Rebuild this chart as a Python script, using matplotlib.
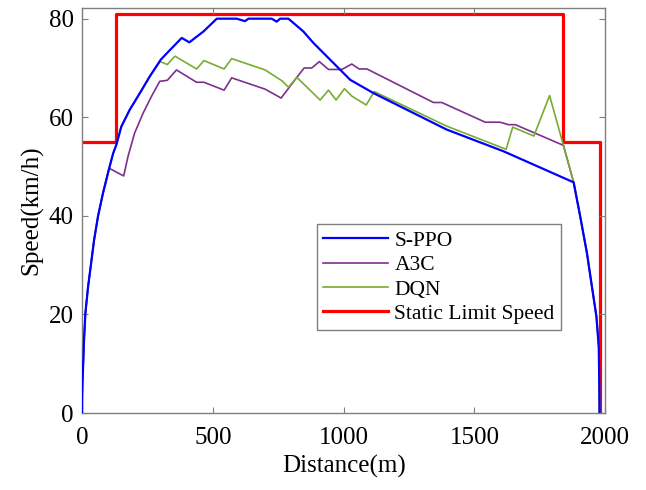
import matplotlib
matplotlib.use('Agg')
import matplotlib.pyplot as plt

# distance (m) / speed (km/h)
# shared braking/traction curves at both ends
acc_x = [0, 0.5, 1.5, 3, 7.6, 12.7, 23, 33, 46, 61, 80, 102]
acc_v = [0, 3.5, 6, 8, 14.8, 20.2, 25.6, 29.7, 35.1, 39.9, 44.6, 49.3]
brk_x = [1879, 1904, 1930, 1949, 1966, 1975, 1977, 1978]
brk_v = [46.8, 39.9, 32.4, 25.6, 19.6, 13.5, 6, 0]

sppo_x = acc_x + [119, 131, 150, 182, 221, 259, 301, 337, 381, 410, 464, 515,
                  591, 623, 636, 725, 744, 757, 789, 846, 884, 1025, 1114, 1394, 1611] + brk_x
sppo_v = acc_v + [52.7, 54.4, 58.1, 61.5, 64.9, 68.3, 71.7, 73.7, 76.1, 75.2, 77.4, 80,
                  80, 79.5, 80, 80, 79.4, 80, 80, 77.4, 75.1, 67.6, 64.9, 57.5, 53.1] + brk_v

a3c_x = acc_x + [106, 159, 176, 201, 233, 265, 297, 326, 361, 438, 466, 543,
                 572, 700, 761, 821, 849, 878, 907, 942, 993, 1031, 1059, 1089, 1343, 1375, 1541,
                 1598, 1630, 1656, 1840] + brk_x
a3c_v = acc_v + [49.6, 48.1, 52.1, 56.8, 60.8, 64.2, 67.3, 67.5, 69.6, 67.1, 67.1, 65.5,
                 68.0, 65.7, 63.9, 68.1, 70.0, 70.0, 71.3, 69.7, 69.7, 70.8, 69.8, 69.8, 63.0, 63.0, 59.0,
                 59.0, 58.5, 58.5, 54.3] + brk_v

dqn_x = acc_x + [119, 131, 150, 182, 221, 259, 298, 326, 355, 438, 466, 543, 572,
                 700, 764, 789, 821, 910, 942, 971, 1003, 1031, 1086, 1117, 1394, 1621, 1646, 1727,
                 1787, 1840] + brk_x
dqn_v = acc_v + [52.7, 54.4, 58.1, 61.5, 64.9, 68.3, 71.3, 70.7, 72.4, 69.8, 71.5, 69.8, 71.9,
                 69.6, 67.4, 66.1, 68.1, 63.5, 65.5, 63.5, 65.8, 64.3, 62.5, 65.2, 58.2, 53.5, 58.0, 56.2,
                 64.4, 54.3] + brk_v

limit_x = [0, 130, 130, 1840, 1840, 1979, 1979]
limit_v = [55, 55, 81, 81, 55, 55, 0]

plt.rcParams['font.family'] = 'Liberation Serif'

fig = plt.figure(figsize=(6.46, 4.9), dpi=100)
ax = fig.add_axes([0.127, 0.157, 0.81, 0.827])

l4, = ax.plot(limit_x, limit_v, color='#ff0000', lw=2.3, zorder=1)
l2, = ax.plot(a3c_x, a3c_v, color='#7E2F8E', lw=1.2, zorder=2)
l3, = ax.plot(dqn_x, dqn_v, color='#77AC30', lw=1.2, zorder=3)
l1, = ax.plot(sppo_x, sppo_v, color='#0000ff', lw=1.6, zorder=4)

ax.set_xlim(0, 2000)
ax.set_ylim(0, 82.2)
ax.set_xticks([0, 500, 1000, 1500, 2000])
ax.set_yticks([0, 20, 40, 60, 80])
ax.tick_params(direction='in', top=True, right=True, length=4, width=0.8,
               color='#7f7f7f', labelsize=18)
ax.tick_params(axis='x', pad=10)
ax.tick_params(axis='y', pad=6)
for s in ax.spines.values():
    s.set_color('#7f7f7f')
    s.set_linewidth(1.0)

ax.set_xlabel('Distance(m)', fontsize=18, labelpad=4)
ax.set_ylabel('Speed(km/h)', fontsize=18, labelpad=4)

leg = ax.legend([l1, l2, l3, l4], ['S-PPO', 'A3C', 'DQN', 'Static Limit Speed'],
                loc='upper left', bbox_to_anchor=(0.449, 0.466), borderaxespad=0,
                fontsize=15.5, handlelength=3.0, handletextpad=0.3, labelspacing=0.2,
                borderpad=0.3, fancybox=False, framealpha=1, edgecolor='#7f7f7f')
leg.get_frame().set_linewidth(1.0)

fig.savefig('out.png', dpi=100)
